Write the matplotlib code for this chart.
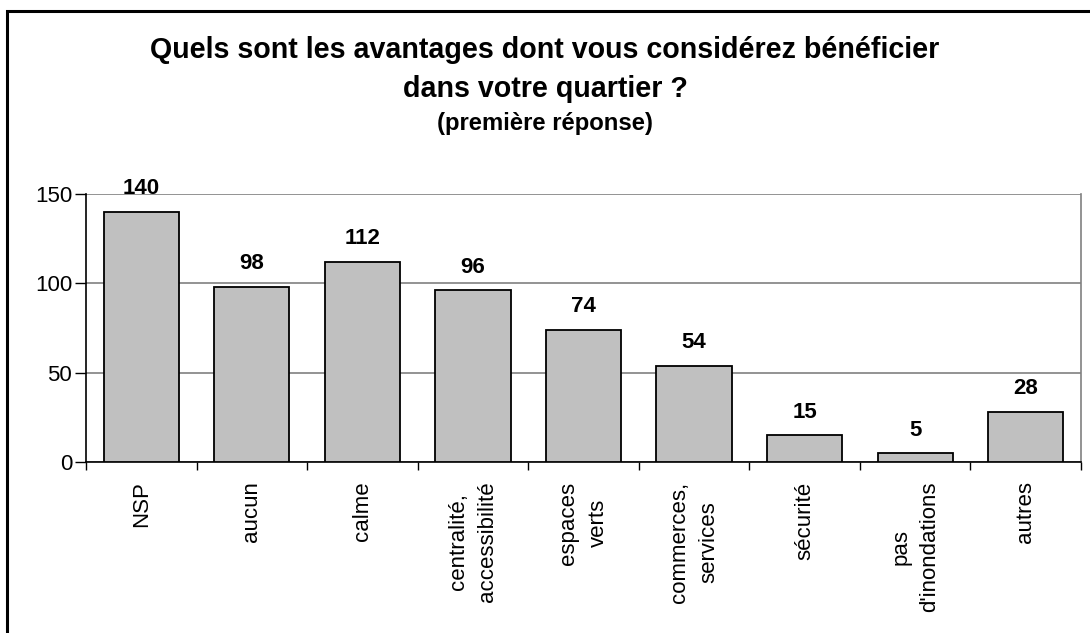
import matplotlib
matplotlib.use("Agg")
import matplotlib.pyplot as plt
from matplotlib.patches import Rectangle
import numpy as np

categories = ["NSP", "aucun", "calme", "centralité,\naccessibilité", "espaces\nverts",
              "commerces,\nservices", "sécurité", "pas\nd'inondations", "autres"]
values = [140, 98, 112, 96, 74, 54, 15, 5, 28]
yticks = [0, 50, 100, 150]

plt.rcParams['font.family'] = ['Liberation Sans', 'DejaVu Sans']

W, H = 1090, 633
fig = plt.figure(figsize=(W/100, H/100), dpi=100)
fig.patches.append(Rectangle((7/W, -0.05), 1.2, 1 - 11/H + 0.05, transform=fig.transFigure,
                             fill=False, edgecolor='black', linewidth=2.2, zorder=10))

ax = fig.add_axes([86/W, 1 - 462/H, (1081-86)/W, (462-194)/H])
x = np.arange(len(categories))
bars = ax.bar(x, values, width=0.68, color='#C0C0C0', edgecolor='black', linewidth=1.3, zorder=3)
for xi, v in zip(x, values):
    ax.annotate(str(v), (xi, v), xytext=(0, 9), textcoords='offset points',
                ha='center', va='bottom', fontsize=16, fontweight='bold')

ax.set_xlim(-0.5, len(categories) - 0.5)
ax.set_ylim(0, 150)
ax.set_yticks(yticks)
ax.set_yticklabels([str(t) for t in yticks], fontsize=16)
ax.yaxis.grid(True, color='#808080', linewidth=1.2, zorder=0)
ax.set_axisbelow(True)
ax.tick_params(axis='y', length=8, width=1, direction='out', pad=2)

ax.set_xticks(np.arange(len(categories) + 1) - 0.5)
ax.set_xticklabels([])
ax.tick_params(axis='x', which='major', length=6, width=1, direction='out')
ax.set_xticks(x, minor=True)
ax.set_xticklabels(categories, minor=True, rotation=90, fontsize=16,
                   ha='center', va='top', multialignment='center', linespacing=1.5)
ax.tick_params(axis='x', which='minor', length=0, pad=14)

for s in ['left', 'bottom']:
    ax.spines[s].set_color('black')
    ax.spines[s].set_linewidth(1.2)
ax.spines['right'].set_color('#808080')
ax.spines['right'].set_linewidth(1.2)
ax.spines['top'].set_visible(False)

fig.text(0.5, 1 - 50/H, "Quels sont les avantages dont vous considérez bénéficier",
         ha='center', va='center', fontsize=20.6, fontweight='bold')
fig.text(0.5, 1 - 89/H, "dans votre quartier ?",
         ha='center', va='center', fontsize=20.6, fontweight='bold')
fig.text(0.5, 1 - 124/H, "(première réponse)",
         ha='center', va='center', fontsize=17.2, fontweight='bold')

fig.savefig("out.png", dpi=100)
